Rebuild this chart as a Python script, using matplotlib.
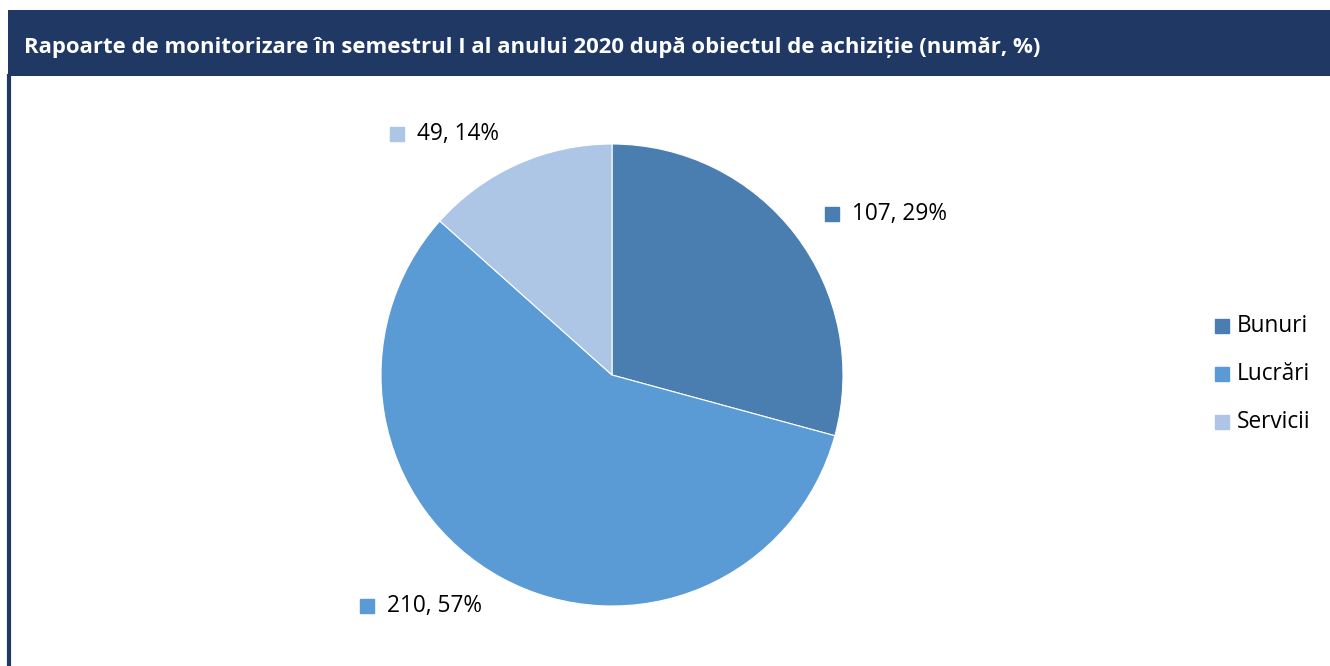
import matplotlib
matplotlib.use("Agg")
import matplotlib.pyplot as plt
from matplotlib.patches import Rectangle
from matplotlib.lines import Line2D

categories = ["Bunuri", "Lucrări", "Servicii"]
counts = [107, 210, 49]
percents = [29, 57, 14]
colors = ["#4A7EB0", "#5B9BD5", "#ADC6E5"]
title = "Rapoarte de monitorizare în semestrul I al anului 2020 după obiectul de achiziție (număr, %)"

plt.rcParams["font.family"] = ["Open Sans", "DejaVu Sans"]

W, H = 1330, 666
fig = plt.figure(figsize=(W / 100, H / 100), dpi=100)

def fx(px):
    return px / W

def fy(py):
    return 1 - py / H

# title bar and left frame line
fig.add_artist(Rectangle((fx(8), fy(76)), 1 - fx(8), 66 / H, transform=fig.transFigure,
                         facecolor="#203864", edgecolor="none"))
fig.add_artist(Line2D([fx(8.5), fx(8.5)], [fy(76), 0], transform=fig.transFigure,
                      color="#203864", linewidth=3))
fig.text(fx(24), fy(47), title, color="white", fontsize=15.9, fontweight="bold",
         va="center", ha="left")

# pie
ax = fig.add_axes([fx(381), fy(606), 462 / W, 462 / H])
wedges, _ = ax.pie(counts, colors=colors, startangle=90, counterclock=False, radius=1,
                   wedgeprops=dict(linewidth=0.8, edgecolor="white"))
ax.set_xlim(-1, 1)
ax.set_ylim(-1, 1)
ax.set_aspect("equal")
ax.axis("off")

# data labels with colour keys
label_pos = [(832, 214), (367, 606), (397, 134)]
for (px, py), c, n, p in zip(label_pos, colors, counts, percents):
    fig.add_artist(Line2D([fx(px)], [fy(py)], marker="s", markersize=9.5, color=c,
                          linestyle="none", transform=fig.transFigure))
    fig.text(fx(px + 20), fy(py), f"{n}, {p}%", fontsize=16.3, va="center", ha="left",
             color="black")

# legend
for i, (cat, c) in enumerate(zip(categories, colors)):
    py = 326 + i * 48
    fig.add_artist(Line2D([fx(1222)], [fy(py)], marker="s", markersize=9.5, color=c,
                          linestyle="none", transform=fig.transFigure))
    fig.text(fx(1237), fy(py), cat, fontsize=16.3, va="center", ha="left", color="black")

fig.savefig("out.png", dpi=100)
